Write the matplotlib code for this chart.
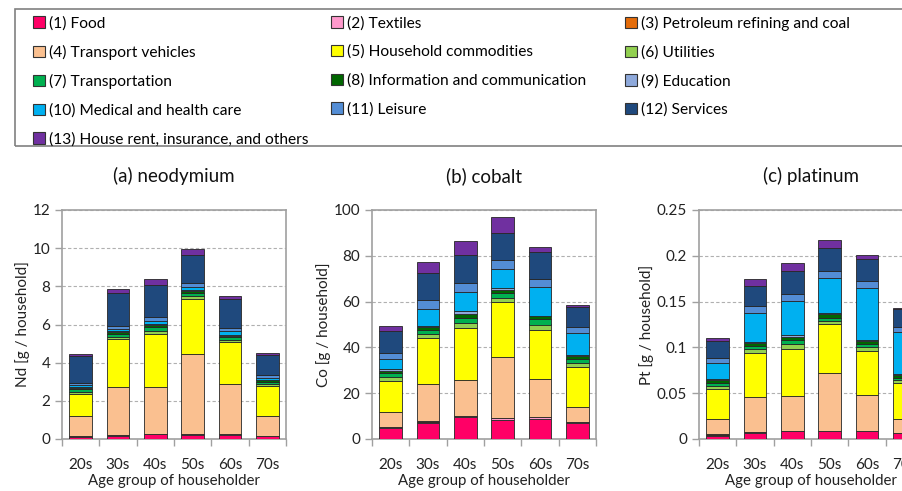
import matplotlib
matplotlib.use('Agg')
import matplotlib.pyplot as plt
from matplotlib.patches import Rectangle
from matplotlib.ticker import FuncFormatter
import numpy as np

plt.rcParams['font.family'] = ['Lato', 'DejaVu Sans']

ages = ['20s', '30s', '40s', '50s', '60s', '70s']

categories = ['(1) Food', '(2) Textiles', '(3) Petroleum refining and coal',
              '(4) Transport vehicles', '(5) Household commodities', '(6) Utilities',
              '(7) Transportation', '(8) Information and communication', '(9) Education',
              '(10) Medical and health care', '(11) Leisure', '(12) Services',
              '(13) House rent, insurance, and others']

colors = ['#ff0066', '#ff99cc', '#e46c0a', '#fac090', '#ffff00', '#92d050',
          '#00b050', '#006600', '#8ea9db', '#00b0f0', '#538dd5', '#1f497d', '#7030a0']

# rows = categories (1)..(13), columns = age groups 20s..70s
nd = [
    [0.12, 0.17, 0.24, 0.22, 0.22, 0.15],
    [0.02, 0.02, 0.02, 0.02, 0.02, 0.02],
    [0.01, 0.01, 0.01, 0.01, 0.01, 0.01],
    [1.08, 2.55, 2.48, 4.20, 2.62, 1.04],
    [1.12, 2.48, 2.75, 2.90, 2.23, 1.57],
    [0.12, 0.13, 0.18, 0.12, 0.10, 0.10],
    [0.15, 0.15, 0.17, 0.18, 0.12, 0.10],
    [0.07, 0.10, 0.12, 0.10, 0.10, 0.08],
    [0.03, 0.04, 0.05, 0.05, 0.04, 0.03],
    [0.10, 0.12, 0.15, 0.15, 0.20, 0.12],
    [0.12, 0.15, 0.20, 0.20, 0.15, 0.12],
    [1.42, 1.75, 1.70, 1.50, 1.55, 1.05],
    [0.12, 0.20, 0.30, 0.32, 0.15, 0.10],
]

co = [
    [4.6, 7.0, 9.4, 8.4, 8.6, 6.8],
    [0.5, 0.6, 0.6, 0.6, 0.8, 0.5],
    [0.2, 0.2, 0.2, 0.2, 0.3, 0.2],
    [6.6, 16.2, 15.7, 26.8, 16.3, 6.3],
    [13.6, 20.1, 22.4, 23.7, 21.7, 17.5],
    [1.7, 1.8, 2.2, 1.8, 2.3, 1.9],
    [1.5, 1.7, 2.5, 2.3, 2.3, 1.8],
    [1.2, 1.2, 1.5, 1.2, 1.2, 1.3],
    [0.6, 0.6, 1.5, 1.0, 0.4, 0.4],
    [4.3, 7.4, 8.0, 8.2, 12.3, 9.4],
    [2.9, 3.9, 4.0, 4.1, 3.5, 2.7],
    [9.3, 11.6, 12.3, 11.7, 12.1, 8.7],
    [2.2, 4.8, 6.3, 6.8, 1.9, 1.2],
]

pt = [
    [0.0036, 0.0065, 0.0085, 0.0085, 0.0082, 0.0063],
    [0.0012, 0.0006, 0.0004, 0.0004, 0.0004, 0.0004],
    [0.0005, 0.0002, 0.0002, 0.0002, 0.0001, 0.0002],
    [0.0161, 0.0388, 0.0381, 0.0631, 0.0396, 0.0152],
    [0.0330, 0.0479, 0.0515, 0.0537, 0.0479, 0.0385],
    [0.0033, 0.0040, 0.0053, 0.0031, 0.0043, 0.0034],
    [0.0033, 0.0030, 0.0040, 0.0035, 0.0035, 0.0030],
    [0.0030, 0.0040, 0.0030, 0.0035, 0.0030, 0.0034],
    [0.0010, 0.0010, 0.0020, 0.0020, 0.0010, 0.0010],
    [0.0185, 0.0315, 0.0376, 0.0380, 0.0570, 0.0451],
    [0.0054, 0.0073, 0.0076, 0.0072, 0.0080, 0.0058],
    [0.0181, 0.0225, 0.0250, 0.0251, 0.0233, 0.0192],
    [0.0033, 0.0069, 0.0084, 0.0090, 0.0047, 0.0015],
]

panels = [
    ('(a) neodymium', 'Nd [g / household]', nd, 12, 2),
    ('(b) cobalt', 'Co [g / household]', co, 100, 20),
    ('(c) platinum', 'Pt [g / household]', pt, 0.25, 0.05),
]

W, H = 903, 491
fig = plt.figure(figsize=(W / 100, H / 100), dpi=100)

grey = '#a0a0a0'
lefts = [62, 372, 699]
ax_w, ax_bot, ax_top = 224, 439, 210

x = np.arange(len(ages))
for (title, ylab, data, ymax, step), lpx in zip(panels, lefts):
    ax = fig.add_axes([lpx / W, 1 - ax_bot / H, ax_w / W, (ax_bot - ax_top) / H])
    bottom = np.zeros(len(ages))
    for vals, c in zip(data, colors):
        ax.bar(x, vals, 0.6, bottom=bottom, color=c, edgecolor='#262626', linewidth=0.6, zorder=3)
        bottom += np.array(vals)
    ax.set_xlim(-0.5, 5.5)
    ax.set_ylim(0, ymax)
    ax.set_yticks(np.arange(0, ymax + step / 2, step))
    ax.yaxis.set_major_formatter(FuncFormatter(lambda v, p: '{:g}'.format(round(v, 4))))
    ax.set_xticks(x)
    ax.set_xticklabels(ages)
    ax.set_xticks(np.arange(-0.5, 6, 1), minor=True)
    ax.tick_params(axis='x', which='major', length=0, pad=14, labelsize=11, colors='#222222')
    ax.tick_params(axis='x', which='minor', length=5, color=grey, width=1)
    ax.tick_params(axis='y', length=5, color=grey, width=1, labelsize=11, labelcolor='#222222')
    ax.yaxis.grid(True, linestyle=(0, (3, 2)), color='#b0b0b0', linewidth=0.8, zorder=0)
    for s in ax.spines.values():
        s.set_color(grey)
        s.set_linewidth(1.2)
    ax.set_xlabel('Age group of householder', fontsize=10.8, color='#222222', labelpad=1)
    ax.set_ylabel(ylab, fontsize=11, color='#222222', labelpad=2)
    ax.set_title(title, fontsize=13.5, color='#111111', pad=20)

# legend: three columns inside one frame
fig.patches.append(Rectangle((15 / W, 1 - 146 / H), 900 / W, 137 / H, transform=fig.transFigure,
                             fill=False, edgecolor='#808080', linewidth=1.2))
order = [[0, 3, 6, 9, 12], [1, 4, 7, 10], [2, 5, 8, 11]]
col_x = [33, 331, 625]
for idx, cx in zip(order, col_x):
    handles = [Rectangle((0, 0), 1, 1, facecolor=colors[i], edgecolor='#333333', linewidth=0.8) for i in idx]
    fig.legend(handles, [categories[i] for i in idx], loc='upper left',
               bbox_to_anchor=(cx / W, 1 - 16 / H), frameon=False, fontsize=11.2,
               handlelength=0.75, handleheight=0.75, handletextpad=0.3,
               labelspacing=0.92, borderpad=0, borderaxespad=0)

fig.savefig('out.png', dpi=100)
